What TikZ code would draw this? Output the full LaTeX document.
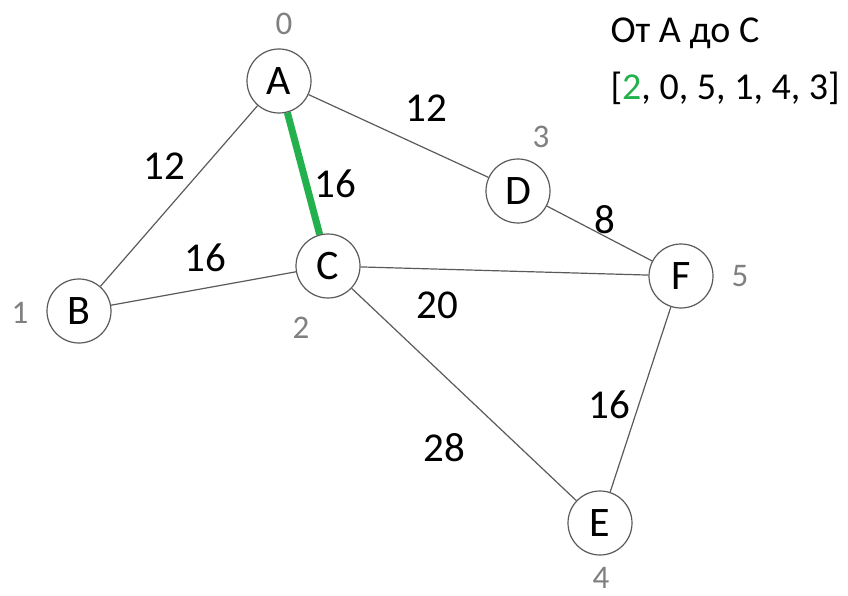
\documentclass[tikz,border=0pt]{standalone}
\usepackage{fontspec}
\setmainfont{Carlito}
\usetikzlibrary{arrows,backgrounds}

\definecolor{pathgreen}{RGB}{34,177,76}
\definecolor{idgray}{RGB}{128,128,128}
\definecolor{edgegray}{RGB}{90,90,90}

\begin{document}
\begin{tikzpicture}[x=1pt,y=-1pt,-,thick,
  main node/.style={circle,draw=edgegray,fill=white,line width=1.2pt,minimum size=64pt,inner sep=0pt,font=\fontsize{42}{42}\selectfont},
  weight/.style={font=\fontsize{41}{41}\selectfont},
  index/.style={text=idgray,inner sep=1pt,font=\fontsize{33}{33}\selectfont},
  info/.style={anchor=base west,font=\fontsize{38}{38}\selectfont}]

  \useasboundingbox (0,0) rectangle (848,596);

  % vertices
  \node[main node] (A) at (279,81) {A};
  \node[main node] (B) at (79,311) {B};
  \node[main node] (C) at (328,266) {C};
  \node[main node] (D) at (518,191) {D};
  \node[main node] (F) at (681,276) {F};
  \node[main node] (E) at (600,523) {E};

  % edges, kept behind the vertices
  \begin{pgfonlayer}{background}
  \path[draw=edgegray,line width=1.2pt]
    (A) edge (B)
        edge (D)
    (C) edge (B)
        edge (F)
        edge (E)
    (F) edge (D)
        edge (E);
  \draw[pathgreen,line width=7pt] (A) -- (C);
  \end{pgfonlayer}

  % edge weights
  \node[weight] (wAD) at (426,108) {12};
  \node[weight] (wAB) at (164,166) {12};
  \node[weight] (wAC) at (335,184) {16};
  \node[weight] (wBC) at (205,258) {16};
  \node[weight] (wDF) at (605,220) {8};
  \node[weight] (wCF) at (437,305) {20};
  \node[weight] (wCE) at (444,448) {28};
  \node[weight] (wFE) at (609,405) {16};

  % vertex indices
  \node[index] (iA) at (284,24) {0};
  \node[index] (iB) at (20,313) {1};
  \node[index] (iC) at (301,328) {2};
  \node[index] (iD) at (541,137) {3};
  \node[index] (iF) at (740,276) {5};
  \node[index] (iE) at (601,578) {4};

  % result
  \node[info] (title) at (607,43) {От A до C};
  \node[info] (order) at (607,100) {[\textcolor{pathgreen}{2}, 0, 5, 1, 4, 3]};
\end{tikzpicture}
\end{document}
